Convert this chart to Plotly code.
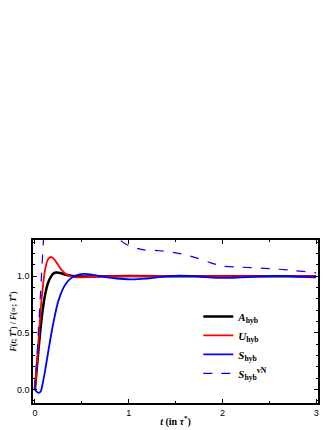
import plotly.graph_objects as go

# Time axis samples (in units of tau*) and normalised curves
t_A = [0, 0.02, 0.05, 0.08, 0.11, 0.14, 0.17, 0.2, 0.23, 0.27, 0.32, 0.4, 0.5, 0.6, 0.8, 1.0, 1.5, 2.0, 2.5, 3.0]
A_hyb = [0, 0.18, 0.45, 0.68, 0.84, 0.94, 0.995, 1.025, 1.032, 1.028, 1.015, 1.002, 0.997, 0.998, 1.0, 1.002, 1.0, 1.0, 1.0, 1.0]

t_U = [0, 0.02, 0.05, 0.08, 0.11, 0.14, 0.17, 0.2, 0.24, 0.28, 0.33, 0.4, 0.5, 0.6, 0.8, 1.0, 1.5, 2.0, 2.5, 3.0]
U_hyb = [0, 0.2, 0.57, 0.87, 1.06, 1.15, 1.17, 1.155, 1.11, 1.06, 1.02, 0.995, 0.99, 0.995, 1.0, 1.0, 1.0, 1.0, 1.0, 1.0]

t_S = [0, 0.02, 0.04, 0.06, 0.09, 0.12, 0.16, 0.2, 0.25, 0.3, 0.35, 0.4, 0.46, 0.53, 0.6, 0.7, 0.85,
       1.03, 1.2, 1.4, 1.55, 1.7, 1.85, 2.0, 2.2, 2.4, 2.55, 2.7, 2.85, 3.0]
S_hyb = [0, -0.02, -0.03, -0.02, 0.08, 0.22, 0.42, 0.6, 0.78, 0.89, 0.955, 0.99, 1.012, 1.02, 1.015, 1.0, 0.982,
         0.972, 0.98, 0.998, 1.004, 1.0, 0.99, 0.985, 0.99, 0.998, 1.002, 1.0, 0.994, 0.99]

# von Neumann curve leaves the frame between t~0.1 and t~0.9
t_vN = [0, 0.03, 0.06, 0.09, 0.12, 0.16, 0.25, 0.5, 0.75, 0.9, 1.0, 1.15, 1.33, 1.55, 1.73, 1.87, 2.0, 2.2, 2.45, 2.7, 3.0]
S_vN = [0, 0.4, 0.85, 1.3, 1.75, 2.2, 2.7, 2.6, 1.7, 1.33, 1.27, 1.235, 1.225, 1.2, 1.16, 1.12, 1.09, 1.08, 1.07, 1.055, 1.03]

serif = "Liberation Serif"
sans = "Liberation Sans"

fig = go.Figure()

# one trace per curve, same order as the legend
fig.add_trace(go.Scatter(x=t_A, y=A_hyb, mode="lines", line=dict(color="black", width=2.5, shape="spline"),
                         name="<b><i>A</i><sub>hyb</sub></b>"))
fig.add_trace(go.Scatter(x=t_U, y=U_hyb, mode="lines", line=dict(color="#ff0000", width=1.8, shape="spline"),
                         name="<b><i>U</i><sub>hyb</sub></b>"))
fig.add_trace(go.Scatter(x=t_S, y=S_hyb, mode="lines", line=dict(color="#0000ff", width=1.8, shape="spline"),
                         name="<b><i>S</i><sub>hyb</sub></b>"))
fig.add_trace(go.Scatter(x=t_vN, y=S_vN, mode="lines",
                         line=dict(color="#0000ff", width=1.2, dash="dash", shape="spline", smoothing=0.8),
                         name="<b><i>S</i><sub>hyb</sub><sup>vN</sup></b>"))

axis_style = dict(showline=True, linecolor="black", linewidth=1.5, mirror="ticks", ticks="inside",
                  ticklen=4, tickwidth=1.2, tickcolor="black", showgrid=False, zeroline=False,
                  automargin=False, tickfont=dict(family=sans, size=9, color="black"))

fig.update_xaxes(range=[-0.02, 3.02], tick0=0, dtick=1,
                 minor=dict(ticks="inside", ticklen=2.5, dtick=0.5, tickcolor="black"),
                 title=dict(text="<b><i>t</i> (in <i>τ</i><sup>*</sup>)</b>", standoff=1,
                            font=dict(family=serif, size=10, color="black")),
                 **axis_style)
fig.update_yaxes(range=[-0.12, 1.32], tick0=0, dtick=0.5, tickformat=".1f",
                 minor=dict(ticks="inside", ticklen=2.5, dtick=0.1, tickcolor="black"),
                 title=dict(text="<b><i>F</i>(<i>t</i>; <i>T</i><sup>*</sup>) / <i>F</i>(∞; <i>T</i><sup>*</sup>)</b>",
                            standoff=5, font=dict(family=serif, size=8, color="black")),
                 **axis_style)

# the page body adds an 8 px offset, so margins are shifted to compensate
fig.update_layout(
    width=332, height=430,
    margin=dict(l=25, r=22, t=232, b=35),
    paper_bgcolor="white", plot_bgcolor="white",
    legend=dict(x=0.58, y=0.62, xanchor="left", yanchor="top", bgcolor="rgba(0,0,0,0)",
                font=dict(family=serif, size=11, color="black"), tracegroupgap=0, itemwidth=30),
)

fig.write_html("out.html")
